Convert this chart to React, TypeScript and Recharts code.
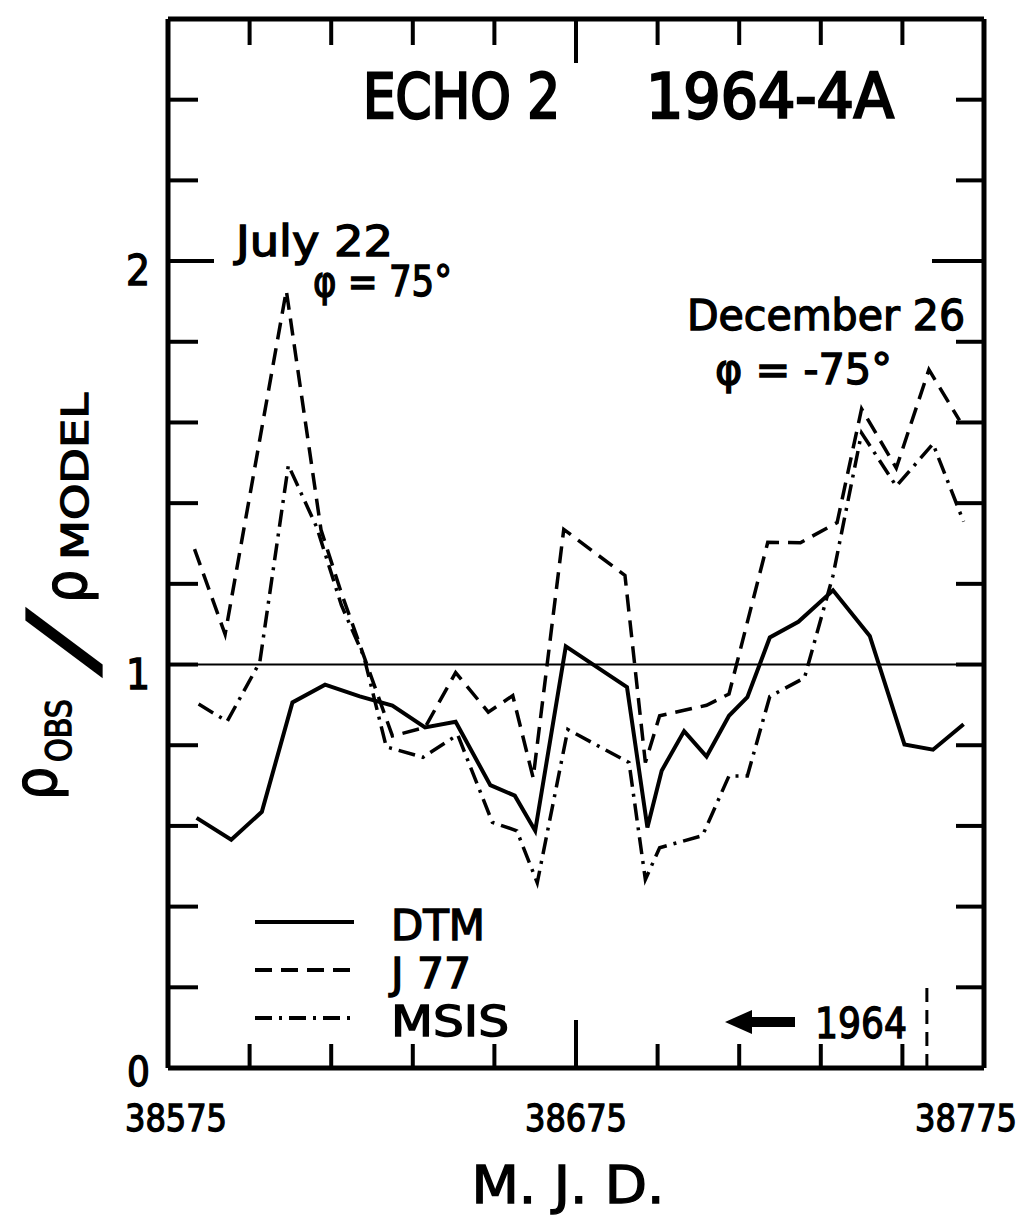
import React from "react"
import { LineChart, Line, XAxis, YAxis, ReferenceLine, Customized } from "recharts"

// MJD of each point and ratio rho_obs / rho_model
const dtmDays = [
  38582, 38590.5, 38598, 38605.5, 38613.5, 38622, 38630, 38638, 38645.5, 38654, 38660, 38665, 38672.5,
  38687.5, 38692.5, 38696, 38701.5, 38707, 38712.5, 38717, 38722.5, 38729.5, 38738, 38747, 38755.5, 38762.5, 38770,
]
const dtmRatio = [
  0.62, 0.566, 0.635, 0.906, 0.95, 0.921, 0.898, 0.844, 0.858, 0.701, 0.675, 0.588, 1.045,
  0.944, 0.596, 0.737, 0.835, 0.772, 0.873, 0.919, 1.067, 1.106, 1.184, 1.071, 0.802, 0.789, 0.852,
]

const j77Days = [
  38581.5, 38589, 38604, 38612.5, 38617.5, 38630, 38638, 38645.5, 38653.5, 38659.5, 38664.5, 38672,
  38687, 38692, 38695.5, 38707, 38712.5, 38722, 38730, 38739, 38745, 38753.5, 38761.5, 38769,
]
const j77Ratio = [
  1.286, 1.075, 1.927, 1.334, 1.177, 0.823, 0.844, 0.98, 0.882, 0.923, 0.719, 1.335,
  1.221, 0.757, 0.873, 0.899, 0.927, 1.303, 1.302, 1.352, 1.634, 1.487, 1.731, 1.605,
]

const msisDays = [
  38582.5, 38589.5, 38597.5, 38604.5, 38611.5, 38617.5, 38623, 38628.5, 38637.5, 38646, 38654.5, 38660.5, 38665.5,
  38673, 38688, 38692, 38695.5, 38706, 38712.5, 38717, 38722.5, 38731, 38738, 38745, 38753.5, 38762.5, 38770,
]
const msisRatio = [
  0.902, 0.859, 1.006, 1.494, 1.339, 1.147, 1.02, 0.796, 0.77, 0.826, 0.609, 0.588, 0.459,
  0.839, 0.757, 0.467, 0.546, 0.576, 0.724, 0.724, 0.921, 0.967, 1.221, 1.574, 1.442, 1.547, 1.354,
]

const xTicks = [38575, 38595, 38615, 38635, 38655, 38675, 38695, 38715, 38735, 38755, 38775]
const xLabels = [38575, 38675, 38775]
const yTicks = [0, 0.2, 0.4, 0.6, 0.8, 1, 1.2, 1.4, 1.6, 1.8, 2, 2.2, 2.4, 2.6]
const yLabels = [0, 1, 2]
const yearStart = 38761 // 1 Jan 1965

const toPoints = (days: number[], vals: number[]) => days.map((d, i) => ({ mjd: d, ratio: vals[i] }))
const dtm = toPoints(dtmDays, dtmRatio)
const j77 = toPoints(j77Days, j77Ratio)
const msis = toPoints(msisDays, msisRatio)

const FONT = '"DejaVu Sans Condensed", "DejaVu Sans", sans-serif'
const INK = "#000"
const dashJ77 = "17 9"
const dashMsis = "17 7 3 7"

// lettering looks pen-drawn, so thicken the glyphs a little
const T = ({ x, y, size, w, anchor, children, heavy, bold, sw }: any) => (
  <text
    x={x}
    y={y}
    fontSize={size}
    textAnchor={anchor}
    textLength={w}
    lengthAdjust={w ? "spacingAndGlyphs" : undefined}
    fontWeight={bold ? "bold" : undefined}
    fontFamily={FONT}
    fill={INK}
    stroke={INK}
    strokeWidth={sw ?? (heavy ? 2.4 : 1.3)}
  >
    {children}
  </text>
)

const BottomTick = ({ x, y, payload }: any) => {
  const v = payload.value
  const len = v === 38675 ? 48 : 24
  const shift = v === 38775 ? -18 : v === 38575 ? 8 : 0
  return (
    <g>
      {v !== 38575 && v !== 38775 && <line x1={x} y1={y} x2={x} y2={y - len} stroke={INK} strokeWidth={4} />}
      {xLabels.includes(v) && (
        <T x={x + shift} y={y + 63} size={38} w={102} anchor="middle">
          {v}
        </T>
      )}
    </g>
  )
}

const TopTick = ({ x, y, payload }: any) => {
  const v = payload.value
  if (v === 38575 || v === 38775) return null
  const len = v === 38675 ? 44 : 26
  return <line x1={x} y1={y} x2={x} y2={y + len} stroke={INK} strokeWidth={4} />
}

const LeftTick = ({ x, y, payload }: any) => {
  const v = payload.value
  const len = v === 2 ? 46 : 30
  return (
    <g>
      {v > 0 && v < 2.6 && <line x1={x} y1={y} x2={x + len} y2={y} stroke={INK} strokeWidth={4} />}
      {yLabels.includes(v) && (
        <T x={x - 18} y={v === 0 ? y + 18 : y + 24} size={v === 0 ? 40 : 42} anchor="end">
          {v}
        </T>
      )}
    </g>
  )
}

const RightTick = ({ x, y, payload }: any) => {
  const v = payload.value
  if (v <= 0 || v >= 2.6) return null
  const len = v === 2 ? 52 : 28
  return <line x1={x} y1={y} x2={x - len} y2={y} stroke={INK} strokeWidth={4} />
}

const series = [
  { name: "DTM", dash: undefined as string | undefined, w: 94 },
  { name: "J 77", dash: dashJ77, w: 80 },
  { name: "MSIS", dash: dashMsis, w: 118 },
]

const Annotations = () => (
  <g>
    <T x={363} y={118} size={62} w={197} heavy>ECHO 2</T>
    <T x={646} y={118} size={62} w={248} heavy>1964-4A</T>
    <T x={236} y={256} size={43} w={157}>July 22</T>
    <T x={313} y={296} size={42} w={139}>φ = 75°</T>
    <T x={687} y={330} size={43} w={278}>December 26</T>
    <T x={715} y={384} size={43} w={177}>φ = -75°</T>
    {series.map((s, i) => (
      <g key={s.name}>
        <line x1={255} x2={354} y1={922 + i * 48} y2={922 + i * 48} stroke={INK} strokeWidth={4} strokeDasharray={s.dash} />
        <T x={391} y={940 + i * 48} size={43} w={s.w}>
          {s.name}
        </T>
      </g>
    ))}
    <path d="M 725 1022 L 752 1010 L 752 1017 L 795 1017 L 795 1027 L 752 1027 L 752 1034 Z" fill={INK} />
    <T x={815} y={1038} size={43} w={92}>1964</T>
    <T x={568} y={1203} size={52} w={193} anchor="middle">M. J. D.</T>
    <g transform="translate(56,800) rotate(-90)">
      <T x={0} y={0} size={58}>ρ</T>
      <T x={38} y={15} size={36} w={63}>OBS</T>
      <g transform="translate(130,36) skewX(-25)">
        <T x={0} y={0} size={88} bold sw={5}>/</T>
      </g>
      <T x={197} y={30} size={58}>ρ</T>
      <T x={240} y={32} size={38} w={167}>MODEL</T>
    </g>
  </g>
)

export default function App() {
  return (
    <div style={{ position: "absolute", left: 0, top: 0, width: 1031, height: 1218, background: "#fff" }}>
      <LineChart width={1031} height={1218} margin={{ top: 18, right: 46, bottom: 149, left: 167 }}>
        <XAxis
          xAxisId="b"
          dataKey="mjd"
          type="number"
          domain={[38575, 38775]}
          ticks={xTicks}
          interval={0}
          height={1}
          tickSize={0}
          tickMargin={0}
          tick={<BottomTick />}
          axisLine={{ stroke: INK, strokeWidth: 5 }}
          allowDataOverflow
        />
        <XAxis
          xAxisId="t"
          orientation="top"
          dataKey="mjd"
          type="number"
          domain={[38575, 38775]}
          ticks={xTicks}
          interval={0}
          height={1}
          tickSize={0}
          tickMargin={0}
          tick={<TopTick />}
          axisLine={{ stroke: INK, strokeWidth: 5 }}
          allowDataOverflow
        />
        <YAxis
          yAxisId="l"
          type="number"
          domain={[0, 2.6]}
          ticks={yTicks}
          interval={0}
          width={1}
          tickSize={0}
          tickMargin={0}
          tick={<LeftTick />}
          axisLine={{ stroke: INK, strokeWidth: 5 }}
          allowDataOverflow
        />
        <YAxis
          yAxisId="r"
          orientation="right"
          type="number"
          domain={[0, 2.6]}
          ticks={yTicks}
          interval={0}
          width={1}
          tickSize={0}
          tickMargin={0}
          tick={<RightTick />}
          axisLine={{ stroke: INK, strokeWidth: 5 }}
          allowDataOverflow
        />
        <ReferenceLine xAxisId="b" yAxisId="l" y={1} stroke={INK} strokeWidth={2} />
        <ReferenceLine
          xAxisId="b"
          yAxisId="l"
          segment={[
            { x: yearStart, y: 0 },
            { x: yearStart, y: 0.2 },
          ]}
          stroke={INK}
          strokeWidth={3}
          strokeDasharray="14 8"
        />
        <Line
          xAxisId="b"
          yAxisId="l"
          data={dtm}
          dataKey="ratio"
          name="DTM"
          stroke={INK}
          strokeWidth={4}
          dot={false}
          type="linear"
          isAnimationActive={false}
        />
        <Line
          xAxisId="b"
          yAxisId="l"
          data={j77}
          dataKey="ratio"
          name="J 77"
          stroke={INK}
          strokeWidth={3.5}
          strokeDasharray={dashJ77}
          dot={false}
          type="linear"
          isAnimationActive={false}
        />
        <Line
          xAxisId="b"
          yAxisId="l"
          data={msis}
          dataKey="ratio"
          name="MSIS"
          stroke={INK}
          strokeWidth={3.5}
          strokeDasharray={dashMsis}
          dot={false}
          type="linear"
          isAnimationActive={false}
        />
        <Customized component={<Annotations />} />
      </LineChart>
    </div>
  )
}
